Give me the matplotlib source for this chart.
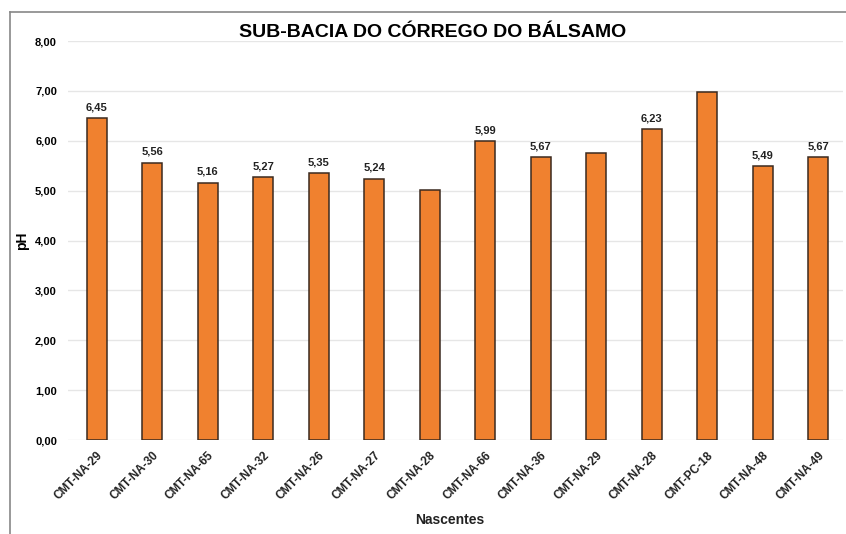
"""pH das nascentes - sub-bacia do Córrego do Bálsamo."""

import matplotlib
matplotlib.use("Agg")
import matplotlib.pyplot as plt
from matplotlib.lines import Line2D
from matplotlib.ticker import FuncFormatter

nascentes = [
    "CMT-NA-29", "CMT-NA-30", "CMT-NA-65", "CMT-NA-32", "CMT-NA-26",
    "CMT-NA-27", "CMT-NA-28", "CMT-NA-66", "CMT-NA-36", "CMT-NA-29",
    "CMT-NA-28", "CMT-PC-18", "CMT-NA-48", "CMT-NA-49",
]
ph = [6.45, 5.56, 5.16, 5.27, 5.35, 5.24, 5.02, 5.99, 5.67, 5.75, 6.23, 6.97, 5.49, 5.67]
# which bars carry a value label in the original
rotulado = [True, True, True, True, True, True, False, True, True, False, True, False, True, True]


def virgula(v, _=None):
    return f"{v:.2f}".replace(".", ",")


def main() -> None:
    plt.rcParams["font.family"] = ["Liberation Sans", "DejaVu Sans"]
    plt.rcParams["font.weight"] = "bold"

    fig = plt.figure(figsize=(8.46, 5.34), dpi=100)
    ax = fig.add_axes([0.0804, 0.176, 0.916, 0.747])

    x = list(range(len(nascentes)))
    bars = ax.bar(x, ph, width=0.36, color="#F0812F", edgecolor="#3b2a1f",
                  linewidth=1.1, zorder=3)

    for b, v, ok in zip(bars, ph, rotulado):
        if ok:
            ax.text(b.get_x() + b.get_width() / 2, v + 0.12, virgula(v),
                    ha="center", va="bottom", fontsize=8, fontweight="bold",
                    color="#222222")

    ax.set_xlim(-0.52, 13.45)
    ax.set_ylim(0, 8)
    ax.set_yticks([0, 1, 2, 3, 4, 5, 6, 7, 8])
    ax.yaxis.set_major_formatter(FuncFormatter(virgula))
    ax.set_xticks(x)
    ax.set_xticklabels(nascentes, rotation=45, ha="right", rotation_mode="anchor",
                       fontsize=8.5, fontweight="bold", color="#222222")
    for lbl in ax.get_yticklabels():
        lbl.set_fontsize(8)
        lbl.set_fontweight("bold")
    ax.tick_params(axis="y", length=0, pad=8)
    ax.tick_params(axis="x", length=0, pad=7)
    ax.grid(axis="y", color="#e6e6e6", linewidth=1, zorder=0)
    for s in ax.spines.values():
        s.set_visible(False)

    ax.set_ylabel("pH", fontsize=10, fontweight="bold")
    ax.yaxis.set_label_coords(-0.05, 0.5)
    fig.text(0.532, 0.026, "Nascentes", ha="center", va="center",
             fontsize=10, fontweight="bold", color="#222222")
    fig.text(0.511, 0.94, "SUB-BACIA DO CÓRREGO DO BÁLSAMO", ha="center",
             va="center", fontsize=14, fontweight="bold")

    # outer chart frame (partially cropped in the original)
    fig.add_artist(Line2D([0.012, 0.012], [0.0, 0.978], color="#888888",
                          linewidth=1.2, transform=fig.transFigure))
    fig.add_artist(Line2D([0.012, 1.0], [0.978, 0.978], color="#888888",
                          linewidth=1.2, transform=fig.transFigure))

    fig.savefig("out.png", dpi=100)


if __name__ == "__main__":
    main()
